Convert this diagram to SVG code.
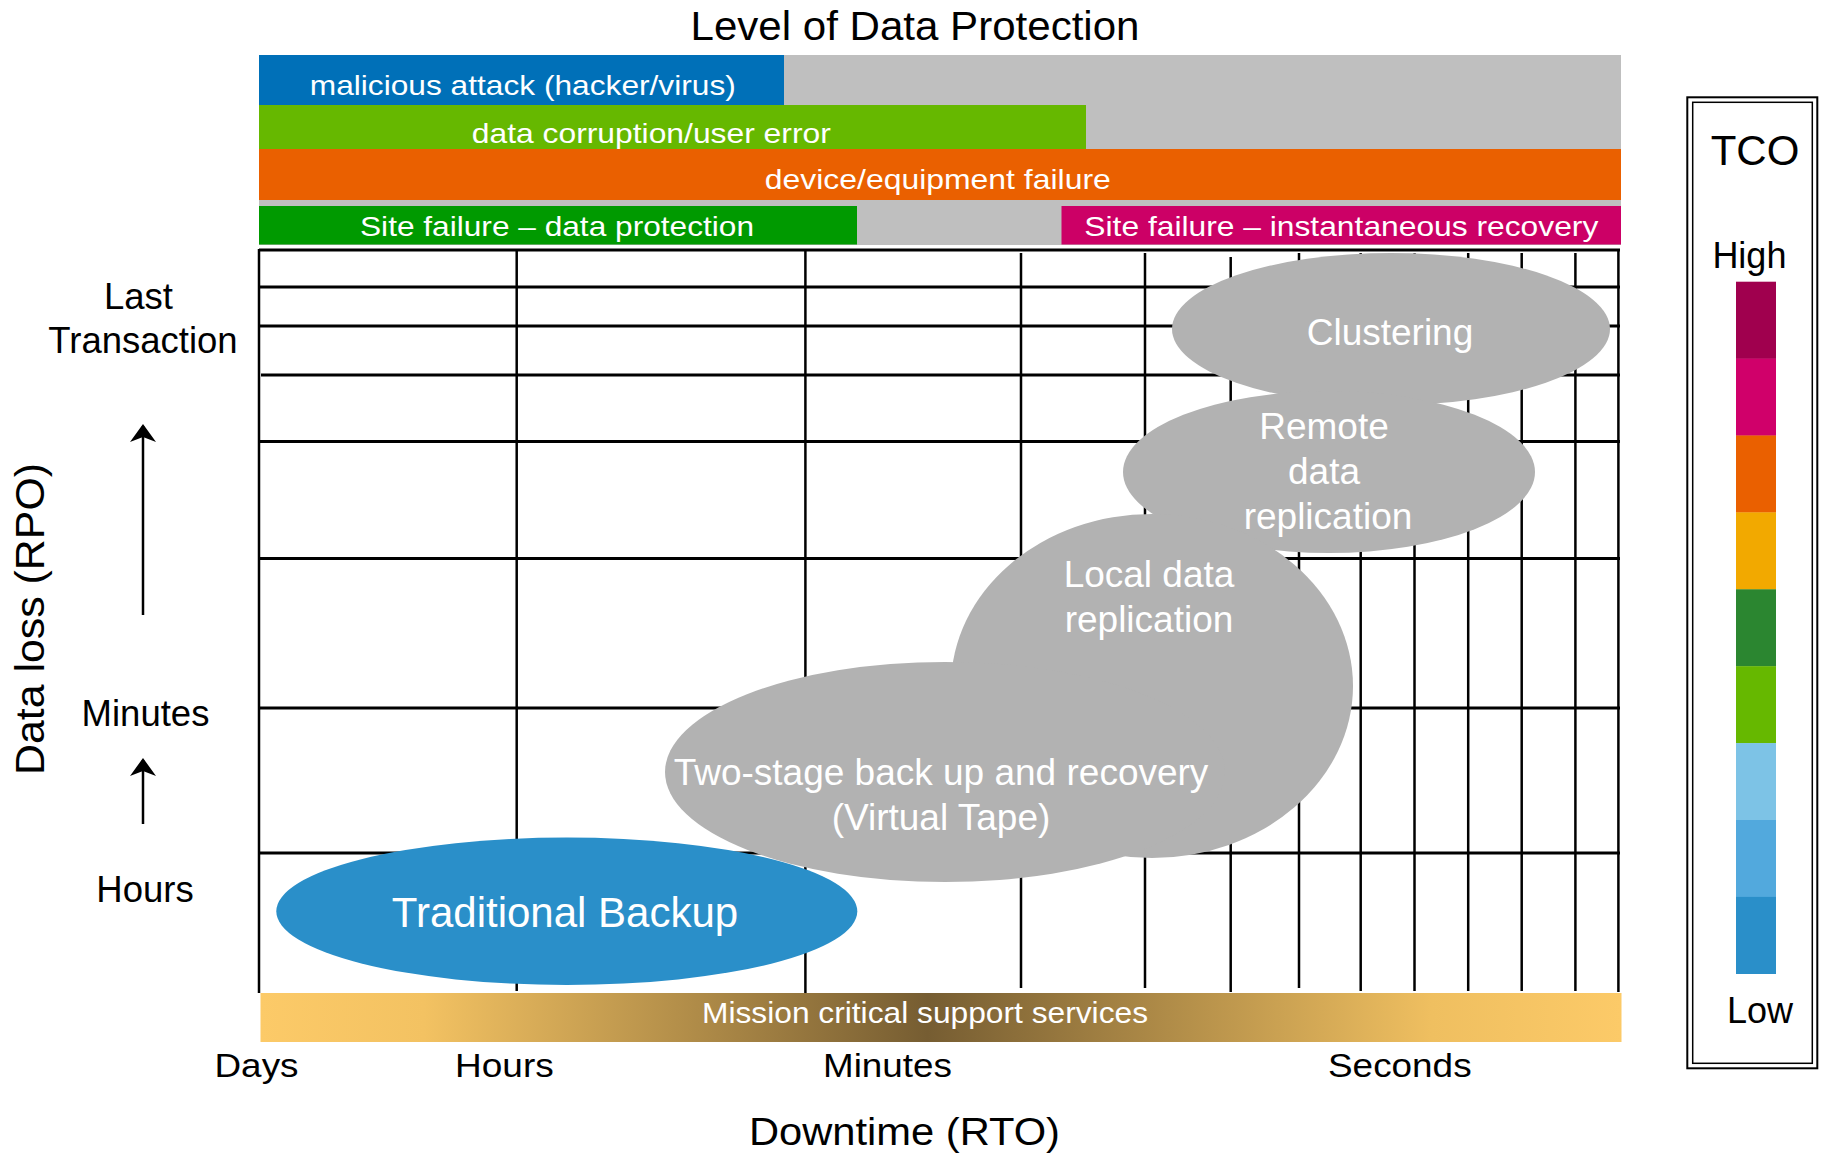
<svg xmlns="http://www.w3.org/2000/svg" width="1828" height="1155" viewBox="0 0 1828 1155">
  <defs>
    <style>
      text { font-family: "Liberation Sans", Arial, sans-serif; }
      .w { fill: #ffffff; }
      .k { fill: #000000; }
      .bar { font-size: 28px; text-anchor: middle; fill: #ffffff; }
      .lbl { font-size: 37px; text-anchor: middle; fill: #ffffff; }
      .ax { font-size: 34px; text-anchor: middle; fill: #000000; }
      .side { font-size: 36.5px; text-anchor: middle; fill: #000000; }
      .hl { stroke: #000000; stroke-width: 3; }
      .vl { stroke: #000000; stroke-width: 2.5; }
      .grey { fill: #B2B2B2; }
    </style>
    <linearGradient id="gold" x1="0" y1="0" x2="1" y2="0">
      <stop offset="0" stop-color="#FCCA68"/>
      <stop offset="0.12" stop-color="#F3C262"/>
      <stop offset="0.49" stop-color="#765D32"/>
      <stop offset="0.86" stop-color="#EFBF60"/>
      <stop offset="1" stop-color="#FCCA68"/>
    </linearGradient>
    <marker id="arr" viewBox="0 0 18 26" refX="16" refY="13" markerWidth="18" markerHeight="26" markerUnits="userSpaceOnUse" orient="auto">
      <path d="M18,13 L0,0 L5,13 L0,26 Z" fill="#000000"/>
    </marker>
  </defs>

  <rect x="0" y="0" width="1828" height="1155" fill="#ffffff"/>

  <!-- Title -->
  <text id="title" x="915" y="40" font-size="40" text-anchor="middle" textLength="449" lengthAdjust="spacingAndGlyphs">Level of Data Protection</text>

  <!-- Threat bars -->
  <g id="bars">
    <rect x="259" y="55" width="1362" height="190" fill="#BFBFBF"/>
    <g id="bar-malicious">
      <rect x="259" y="55" width="525" height="50" fill="#0070B8"/>
      <text class="bar" x="522.8" y="95" textLength="426" lengthAdjust="spacingAndGlyphs">malicious attack (hacker/virus)</text>
    </g>
    <g id="bar-corruption">
      <rect x="259" y="105" width="827" height="44" fill="#66B800"/>
      <text class="bar" x="651.3" y="142.5" textLength="359" lengthAdjust="spacingAndGlyphs">data corruption/user error</text>
    </g>
    <g id="bar-device">
      <rect x="259" y="149" width="1362" height="51" fill="#EA6000"/>
      <text class="bar" x="937.8" y="188.5" textLength="346" lengthAdjust="spacingAndGlyphs">device/equipment failure</text>
    </g>
    <g id="bar-site-protection">
      <rect x="259" y="206" width="598" height="38.5" fill="#009A00"/>
      <text class="bar" x="557" y="236" textLength="394" lengthAdjust="spacingAndGlyphs">Site failure – data protection</text>
    </g>
    <g id="bar-site-instant">
      <rect x="1061.5" y="206" width="559.5" height="38.5" fill="#CC0066"/>
      <text class="bar" x="1341.3" y="235.5" textLength="514" lengthAdjust="spacingAndGlyphs">Site failure – instantaneous recovery</text>
    </g>
  </g>

  <!-- Grid -->
  <g id="grid">
    <line class="hl" x1="259" y1="250" x2="1620" y2="250"/>
    <line class="hl" x1="259" y1="287" x2="1620" y2="287"/>
    <line class="hl" x1="259" y1="326" x2="1620" y2="326"/>
    <line class="hl" x1="261" y1="375" x2="1620" y2="375"/>
    <line class="hl" x1="259" y1="441.5" x2="1620" y2="441.5"/>
    <line class="hl" x1="259" y1="558.5" x2="1620" y2="558.5"/>
    <line class="hl" x1="259" y1="708" x2="1620" y2="708"/>
    <line class="hl" x1="259" y1="853" x2="1620" y2="853"/>
    <line class="vl" x1="259" y1="249" x2="259" y2="993"/>
    <line class="vl" x1="516.7" y1="250" x2="516.7" y2="991"/>
    <line class="vl" x1="805.4" y1="250" x2="805.4" y2="993"/>
    <line class="vl" x1="1021" y1="253" x2="1021" y2="988"/>
    <line class="vl" x1="1145" y1="253" x2="1145" y2="988"/>
    <line class="vl" x1="1230.7" y1="257" x2="1230.7" y2="992"/>
    <line class="vl" x1="1299" y1="253" x2="1299" y2="988"/>
    <line class="vl" x1="1360.7" y1="253" x2="1360.7" y2="991"/>
    <line class="vl" x1="1414.5" y1="253" x2="1414.5" y2="991"/>
    <line class="vl" x1="1468.2" y1="253" x2="1468.2" y2="991"/>
    <line class="vl" x1="1521.7" y1="253" x2="1521.7" y2="991"/>
    <line class="vl" x1="1575.4" y1="253" x2="1575.4" y2="991"/>
    <line class="vl" x1="1618.4" y1="250" x2="1618.4" y2="992"/>
  </g>

  <!-- Solution ellipses -->
  <g id="node-traditional">
    <ellipse cx="566.8" cy="911.3" rx="290.5" ry="73.7" fill="#2A8FC9"/>
    <text x="565" y="927" font-size="42" text-anchor="middle" class="w">Traditional Backup</text>
  </g>
  <g id="node-clustering">
    <ellipse class="grey" cx="1391" cy="329" rx="219" ry="76"/>
    <text class="lbl" x="1390" y="345">Clustering</text>
  </g>
  <g id="node-remote">
    <ellipse class="grey" cx="1329" cy="472" rx="206" ry="81"/>
    <text class="lbl" x="1324" y="439">Remote</text>
    <text class="lbl" x="1324" y="484">data</text>
    <text class="lbl" x="1328" y="529">replication</text>
  </g>
  <g id="node-local">
    <ellipse class="grey" cx="1152" cy="686" rx="201" ry="172"/>
    <text class="lbl" x="1149" y="587">Local data</text>
    <text class="lbl" x="1149" y="632">replication</text>
  </g>
  <g id="node-twostage">
    <ellipse class="grey" cx="945" cy="772" rx="280" ry="110"/>
    <text class="lbl" x="941" y="785">Two-stage back up and recovery</text>
    <text class="lbl" x="941" y="830">(Virtual Tape)</text>
  </g>

  <!-- Mission critical bar -->
  <g id="bar-mission">
    <rect x="260.5" y="993" width="1361" height="49" fill="url(#gold)"/>
    <text x="925" y="1023" font-size="29" text-anchor="middle" class="w" textLength="446" lengthAdjust="spacingAndGlyphs">Mission critical support services</text>
  </g>

  <!-- Axis labels -->
  <g id="x-axis">
    <text class="ax" x="256.5" y="1076.7" textLength="84" lengthAdjust="spacingAndGlyphs">Days</text>
    <text class="ax" x="504.4" y="1076.7" textLength="98.7" lengthAdjust="spacingAndGlyphs">Hours</text>
    <text class="ax" x="887.5" y="1076.7" textLength="129" lengthAdjust="spacingAndGlyphs">Minutes</text>
    <text class="ax" x="1399.8" y="1076.7" textLength="143.6" lengthAdjust="spacingAndGlyphs">Seconds</text>
    <text x="904.5" y="1145" font-size="38" text-anchor="middle" textLength="311" lengthAdjust="spacingAndGlyphs">Downtime (RTO)</text>
  </g>

  <g id="y-axis">
    <text x="0" y="0" font-size="40" text-anchor="middle" textLength="312" lengthAdjust="spacingAndGlyphs" transform="translate(43.5,619) rotate(-90)">Data loss (RPO)</text>
    <text class="side" x="138.5" y="309">Last</text>
    <text class="side" x="143" y="353">Transaction</text>
    <text class="side" x="145.5" y="726">Minutes</text>
    <text class="side" x="145" y="902">Hours</text>
  </g>

  <!-- Connectors -->
  <g id="connectors">
    <line x1="143" y1="615" x2="143" y2="426" stroke="#000" stroke-width="2.5" marker-end="url(#arr)"/>
    <line x1="143" y1="824" x2="143" y2="760" stroke="#000" stroke-width="2.5" marker-end="url(#arr)"/>
  </g>

  <!-- TCO legend -->
  <g id="legend-tco">
    <rect x="1687.3" y="97.3" width="130" height="971" fill="none" stroke="#000" stroke-width="2"/>
    <rect x="1692.7" y="102.3" width="119.6" height="961" fill="none" stroke="#000" stroke-width="1.5"/>
    <text x="1755" y="165" font-size="42" text-anchor="middle">TCO</text>
    <text x="1749.4" y="268" font-size="36" text-anchor="middle">High</text>
    <rect x="1736" y="281.7" width="40" height="77.2" fill="#A0004E"/>
    <rect x="1736" y="358.6" width="40" height="77.2" fill="#D0006A"/>
    <rect x="1736" y="435.5" width="40" height="77.2" fill="#EA6000"/>
    <rect x="1736" y="512.4" width="40" height="77.2" fill="#F2A900"/>
    <rect x="1736" y="589.3" width="40" height="77.2" fill="#2B8630"/>
    <rect x="1736" y="666.2" width="40" height="77.2" fill="#66B800"/>
    <rect x="1736" y="743.1" width="40" height="77.2" fill="#7DC3E6"/>
    <rect x="1736" y="820" width="40" height="77.2" fill="#52A9DD"/>
    <rect x="1736" y="896.9" width="40" height="77.1" fill="#2A8FC9"/>
    <text x="1760" y="1023" font-size="36" text-anchor="middle">Low</text>
  </g>
</svg>
